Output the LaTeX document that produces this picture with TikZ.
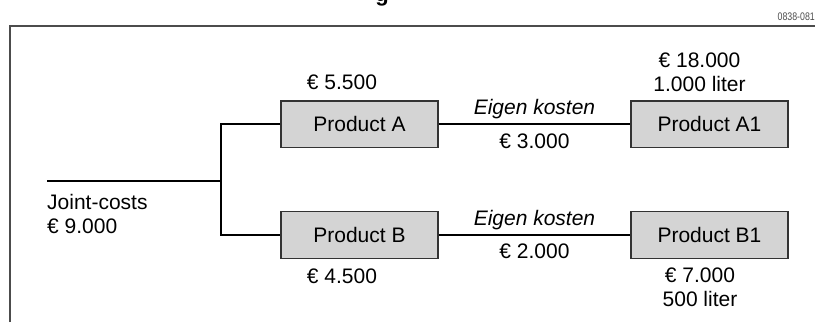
\documentclass[tikz,border=0pt]{standalone}
\usepackage{fontspec}
\usepackage{graphicx}
\setmainfont{Liberation Sans}
\begin{document}
\begin{tikzpicture}[x=1pt,y=-1pt,
  txt/.style={inner sep=0pt, font=\fontsize{21}{24}\selectfont},
  prod/.style={draw=black!80, fill=black!17, line width=1.3pt, minimum width=157pt, minimum height=46.5pt, inner sep=0pt, font=\fontsize{21}{24}\selectfont},
  conn/.style={line width=2pt, black},
  frameline/.style={line width=1.3pt, black!70},
  code/.style={inner sep=0pt, font=\fontsize{11}{13}\selectfont, text=black!70}]
\useasboundingbox (0,0) rectangle (815,322);

% cut-off title fragment
\node[inner sep=0pt, anchor=base, font=\bfseries\fontsize{22}{26}\selectfont] (ttl) at (382,1.5) {g};
\node[code, anchor=base east] (code) at (815,20.5) {\scalebox{0.8}[1]{0838-081}};

% frame
\draw[frameline] (10,322) -- (10,26) -- (815,26);

% boxes
\node[prod] (A)  at (359.5,124.2) {Product A};
\node[prod] (B)  at (359.5,235)   {Product B};
\node[prod] (A1) at (709.5,124.2) {Product A1};
\node[prod] (B1) at (709.5,235)   {Product B1};

% joint costs
\coordinate (J) at (47,181);
\coordinate (S) at (221,181);
\draw[conn] (J) -- (S);
\draw[conn] (A.west) -| (S) |- (B.west);
\node[txt, anchor=base west] (jc1) at (47,209.3) {Joint-costs};
\node[txt, anchor=base west] (jc2) at (47,233.7) {€ 9.000};

% own costs
\draw[conn] (A.east) -- (A1.west)
  node[txt, midway, anchor=base, yshift=9.3pt, font=\itshape\fontsize{21}{24}\selectfont] (ekA) {Eigen kosten}
  node[txt, midway, anchor=base, yshift=-24pt] (vA) {€ 3.000};
\draw[conn] (B.east) -- (B1.west)
  node[txt, midway, anchor=base, yshift=9.3pt, font=\itshape\fontsize{21}{24}\selectfont] (ekB) {Eigen kosten}
  node[txt, midway, anchor=base, yshift=-23pt] (vB) {€ 2.000};

% values
\node[txt, anchor=base west] (pA) at (306.7,89.3) {€ 5.500};
\node[txt, anchor=base west] (pB) at (306.7,283.3) {€ 4.500};
\node[txt, anchor=base] (pA1a) at (699.5,67.7) {€ 18.000};
\node[txt, anchor=base] (pA1b) at (699.5,91.7) {1.000 liter};
\node[txt, anchor=base] (pB1a) at (700,282.7) {€ 7.000};
\node[txt, anchor=base] (pB1b) at (700,306) {500 liter};
\end{tikzpicture}
\end{document}
